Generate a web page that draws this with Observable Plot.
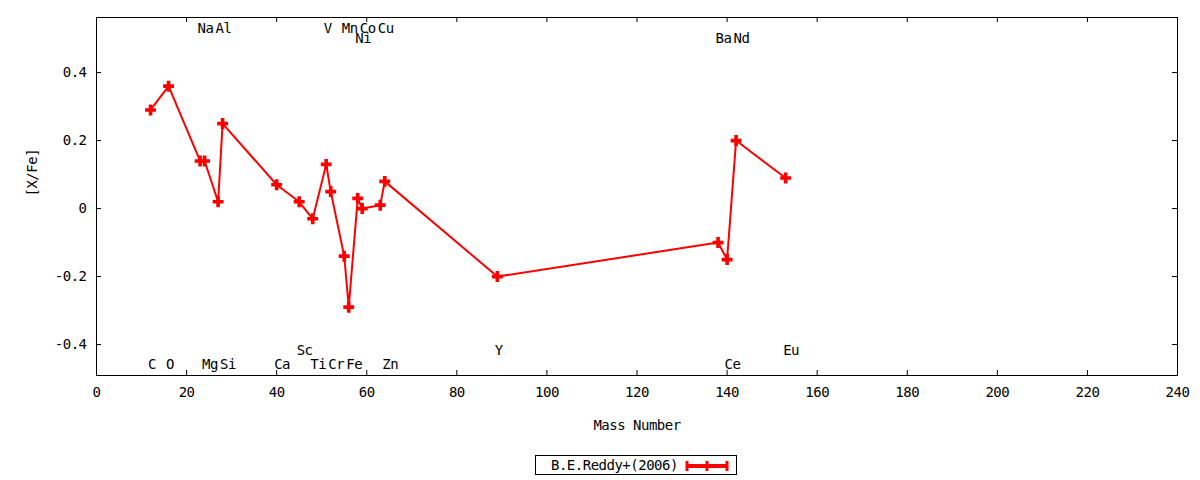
<!DOCTYPE html>
<html>
<head>
<meta charset="utf-8">
<script src="https://cdn.jsdelivr.net/npm/d3@7"></script>
<script src="https://cdn.jsdelivr.net/npm/@observablehq/plot@0.6"></script>
<style>
  html, body { margin: 0; padding: 0; background: #fff; }
  #chart svg { display: block; }
  #chart svg text { letter-spacing: -0.5px; }
  #legend { position: relative; height: 35px; width: 1200px; font-family: "DejaVu Sans Mono", monospace; font-size: 14px; letter-spacing: -0.5px; }
  #legend .box { position: absolute; left: 535px; top: 10px; width: 200px; height: 18px; border: 1px solid #000; }
  #legend .lbl { position: absolute; left: 15px; top: 0px; line-height: 18px; color: #000; }
  #legend svg { position: absolute; left: 148px; top: 3px; }
</style>
</head>
<body>
<div id="chart"></div>
<div id="legend"><div class="box"><span class="lbl">B.E.Reddy+(2006)</span>
<svg width="48" height="14"><line x1="3" y1="7" x2="43" y2="7" stroke="#ff0000" stroke-width="4"/><line x1="3" y1="2" x2="3" y2="12" stroke="#ff0000" stroke-width="3"/><line x1="43" y1="2" x2="43" y2="12" stroke="#ff0000" stroke-width="3"/><line x1="23" y1="2" x2="23" y2="12" stroke="#ff0000" stroke-width="3"/></svg>
</div></div>
<script>
// Data: element, mass number, [X/Fe]
const elements = ["C","O","Na","Mg","Al","Si","Ca","Sc","Ti","V","Cr","Mn","Fe","Ni","Co","Cu","Zn","Y","Ba","Ce","Nd","Eu"];
const massNumbers = [12,16,23,24,27,28,40,45,48,51,52,55,56,58,59,63,64,89,138,140,142,153];
const xFe = [0.29,0.36,0.14,0.14,0.02,0.25,0.07,0.02,-0.03,0.13,0.05,-0.14,-0.29,0.03,0.00,0.01,0.08,-0.20,-0.10,-0.15,0.20,0.09];
// Label row for each element name (0,1 = top rows; 2,3 = bottom rows)
const labelRow = [3,3,0,3,0,3,3,2,3,0,3,0,3,1,0,0,3,2,1,3,1,2];

const xTicks = [0,20,40,60,80,100,120,140,160,180,200,220,240];
const yTicks = [-0.4,-0.2,0,0.2,0.4];
const xDomain = [0, 240];
const yDomain = [-0.491, 0.562];
const rowY = [0.531, 0.501, -0.418, -0.459];

const data = elements.map((e, i) => ({el: e, mass: massNumbers[i], v: xFe[i], row: labelRow[i]}));

const W = 1200, H = 445;
const mL = 96, mR = 23, mT = 17, mB = 70;
const innerW = W - mL - mR, innerH = H - mT - mB;
const tick = 5;
const font = "DejaVu Sans Mono, monospace";
const fs = 14;

const chart = Plot.plot({
  width: W,
  height: H,
  marginLeft: mL,
  marginRight: mR,
  marginTop: mT,
  marginBottom: mB,
  style: {fontFamily: font, fontSize: fs + "px", color: "#000", background: "#fff"},
  x: {domain: xDomain},
  y: {domain: yDomain},
  marks: [
    // inward ticks on all four sides
    Plot.ruleX(xTicks, {x: d => d, insetTop: innerH - tick, stroke: "#000"}),
    Plot.ruleX(xTicks, {x: d => d, insetBottom: innerH - tick, stroke: "#000"}),
    Plot.ruleY(yTicks, {y: d => d, insetRight: innerW - tick, stroke: "#000"}),
    Plot.ruleY(yTicks, {y: d => d, insetLeft: innerW - tick, stroke: "#000"}),
    Plot.axisX(xTicks, {tickSize: 0, tickPadding: 12, tickFormat: d => String(d), label: null, fontSize: fs}),
    Plot.axisY(yTicks, {tickSize: 0, tickPadding: 10, tickFormat: d => d === 0 ? "0" : String(d), label: null, fontSize: fs}),
    Plot.text(["Mass Number"], {frameAnchor: "bottom", dy: 50, lineAnchor: "middle", fontSize: fs}),
    Plot.text(["[X/Fe]"], {frameAnchor: "left", dx: -64, rotate: -90, lineAnchor: "middle", fontSize: fs}),
    // element labels
    Plot.text(data, {x: "mass", y: d => rowY[d.row], text: "el", textAnchor: "start", dx: -2.5, lineAnchor: "middle", fontSize: fs, fill: "#000"}),
    Plot.line(data, {x: "mass", y: "v", stroke: "#ff0000", strokeWidth: 2}),
    Plot.dot(data, {x: "mass", y: "v", symbol: "cross", r: 4.6, fill: "#ff0000", stroke: "none"}),
    Plot.frame({stroke: "#000", strokeWidth: 1})
  ]
});
document.getElementById("chart").appendChild(chart);
</script>
</body>
</html>
